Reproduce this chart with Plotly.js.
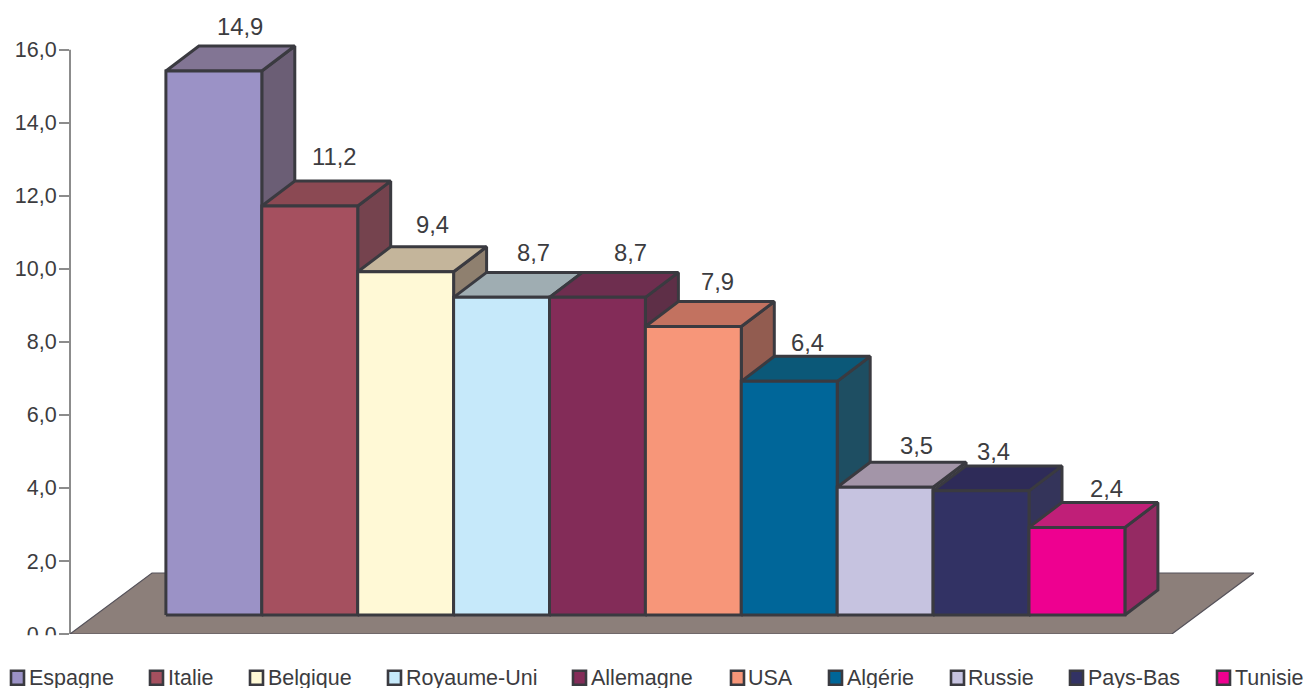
<!DOCTYPE html>
<html><head><meta charset="utf-8">
<script src="https://cdn.plot.ly/plotly-3.0.1.min.js"></script>
<style>html,body{margin:0;padding:0;background:#fff;overflow:hidden}#c{width:1307px;height:688px}</style>
</head><body><div id="c"></div>
<script>
// Data
const categories = ['Espagne','Italie','Belgique','Royaume-Uni','Allemagne','USA','Algérie','Russie','Pays-Bas','Tunisie'];
const values = [14.9,11.2,9.4,8.7,8.7,7.9,6.4,3.5,3.4,2.4];
const yTicks = [0,2,4,6,8,10,12,14,16];
// Styles
const frontColors = ['#9B92C6','#A5505F','#FFF9D6','#C6E9FA','#832C58','#F79679','#006699','#C6C3E0','#323264','#EE0090'];
const topColors   = ['#827594','#8B4953','#C4B59B','#9FADB2','#6E2E4F','#C27260','#0B5878','#A395A8','#2E2B58','#C01F78'];
const sideColors  = ['#6B5E75','#75434E','#8F806F','#8A98A0','#5E2F47','#925C50','#1E4E62','#888399','#34345A','#952A63'];
const edge = '#3A3A40', textColor = '#3C3C40', floorColor = '#8C7F7A', axisColor = '#8C8C8C';
// Layout geometry (pixels of page / depth of pseudo-3D in axis units)
const M = {l:70, r:53, t:0, b:53.7}, W = 1307, H = 688;
const plotW = W-M.l-M.r, plotH = H-M.t-M.b;
const pxPerUnitY = 36.53, pxPerUnitX = 95.9;
const depthX = 0.344, depthY = 0.684, baseY = 0.52;
const floorBackX = 0.855, floorBackY = 1.67, floorFrontLeft = -1, floorFrontRight = 10.49;
const labelDx = [26,25,27,32,33,24,18,31,12,30], labelDy = [20,25,22,20,20,20,14,17,14,14];
const legendSwatchPx = [10,149,249,387,572,730,828,950,1069,1216];
const legendTextPx = [29,168,268,406,591,748,847,968,1088,1235];
const legendYPx = 678;
const px = v => (v-M.l)/plotW, py = v => (H-M.b-v)/plotH;

const traces = [];
function poly(xs, ys, color, name, lw, lc){
  traces.push({type:'scatter',mode:'lines',x:xs,y:ys,fill:'toself',fillcolor:color,
    line:{color:lc||edge,width:lw===undefined?3:lw},name:name,showlegend:false,hoverinfo:'name',cliponaxis:false});
}
poly([floorFrontLeft,floorFrontRight,floorFrontRight+floorBackX,floorFrontLeft+floorBackX,floorFrontLeft],
     [0,0,floorBackY,floorBackY,0],floorColor,'sol',1.2,'#55525A');
categories.forEach((c,i)=>{
  const t = baseY+values[i];
  poly([i+1,i+1+depthX,i+1+depthX,i+1,i+1],[baseY,baseY+depthY,t+depthY,t,baseY],sideColors[i],c);
  poly([i,i+depthX,i+1+depthX,i+1,i],[t,t+depthY,t+depthY,t,t],topColors[i],c);
  poly([i,i+1,i+1,i,i],[baseY,baseY,t,t,baseY],frontColors[i],c);
});

const font = {family:'"Liberation Sans", Arial, sans-serif',size:21.5,color:textColor};
const labelFont = {family:font.family,size:23.8,color:textColor};
const annotations = values.map((v,i)=>({
  x:i+0.5,y:baseY+v+depthY,xref:'x',yref:'y',text:v.toFixed(1).replace('.',','),showarrow:false,
  xanchor:'center',yanchor:'middle',xshift:labelDx[i],yshift:labelDy[i],font:labelFont
}));
const shapes = [
  {type:'rect',xref:'paper',yref:'paper',x0:px(0),x1:px(59),y0:py(662),y1:py(635.5),fillcolor:'#fff',line:{width:0},layer:'above'},
  {type:'line',xref:'paper',yref:'y',x0:0,x1:0,y0:0,y1:yTicks[yTicks.length-1],line:{color:axisColor,width:2},layer:'below'}
];
categories.forEach((c,i)=>{
  annotations.push({xref:'paper',yref:'paper',x:px(legendTextPx[i]),y:py(legendYPx),text:c,showarrow:false,
    xanchor:'left',yanchor:'middle',font:font,borderpad:0,borderwidth:0});
  shapes.push({type:'rect',xref:'paper',yref:'paper',x0:px(legendSwatchPx[i]+1),x1:px(legendSwatchPx[i]+14),
    y0:py(legendYPx+7),y1:py(legendYPx-7),fillcolor:frontColors[i],line:{color:edge,width:2.6},layer:'above'});
});

Plotly.newPlot('c',traces,{
  width:W,height:H,margin:M,autosize:false,showlegend:false,paper_bgcolor:'#fff',plot_bgcolor:'#fff',
  hovermode:'closest',font:font,
  xaxis:{range:[-1,-1+plotW/pxPerUnitX],visible:false,fixedrange:true},
  yaxis:{range:[0,plotH/pxPerUnitY],tickmode:'array',tickvals:yTicks,ticktext:yTicks.map(v=>v.toFixed(1).replace('.',',')),
    ticks:'outside',ticklen:10,tickwidth:1.5,tickcolor:axisColor,showline:false,
    showgrid:false,zeroline:false,tickfont:font,fixedrange:true,ticklabelstandoff:-2},
  annotations:annotations,shapes:shapes
},{displayModeBar:false});
</script></body></html>
